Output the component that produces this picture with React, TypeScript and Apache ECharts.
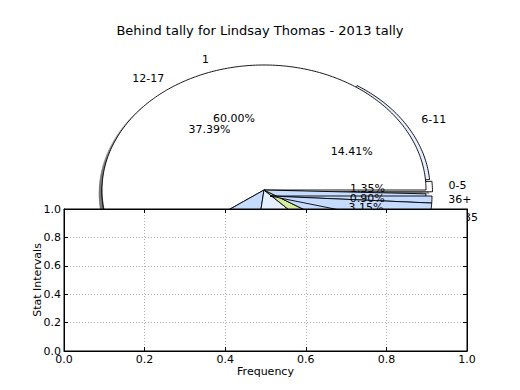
import React, { useEffect, useRef } from "react";
import * as echarts from "echarts";

const TITLE = "Behind tally for Lindsay Thomas - 2013 tally";
const X_NAME = "Frequency";
const Y_NAME = "Stat Intervals";
const X_TICKS = [0, 0.2, 0.4, 0.6, 0.8, 1.0];
const Y_TICKS = [0, 0.2, 0.4, 0.6, 0.8, 1.0];

// Age-group wedges, counter-clockwise from 3 o'clock
const ageLabels = ["0-5", "6-11", "12-17"];
const agePct = [1.35, 14.41, 37.39];
const ageColors = ["#ffffff", "#e6efff", "#ffffff"];
const ageExplode = [0.04, 0.03, 0];

// Age-group wedges drawn clockwise from 3 o'clock
const oldLabels = ["36+", "18-35"];
const oldPct = [0.9, 3.15];
const oldColors = ["#c6dcff", "#c6dcff"];
const oldExplode = [0, 0];

// Behind tally wedges (only "1" is labelled; the rest sit behind the axes)
const tallyLabels = ["1", "", "", "", ""];
const tallyPct = [60.0, 13.06, 14.2, 3.75, 8.5];
const tallyColors = ["#ffffff", "#c6dcff", "#e6efff", "#d4ec9c", "#c6dcff"];
const tallyExplode = [0, 0, 0, 0, 0];

const RX = 162;
const RY = 125;
const FONT = "DejaVu Sans";

function shade(hex: string) {
  const n = parseInt(hex.slice(1), 16);
  const r = Math.round(((n >> 16) & 255) * 0.3);
  const g = Math.round(((n >> 8) & 255) * 0.3);
  const b = Math.round((n & 255) * 0.3);
  return `rgba(${r},${g},${b},0.5)`;
}

function makePie(
  labels: string[],
  pct: number[],
  colors: string[],
  explode: number[],
  cx: number,
  cy: number,
  dir: number
) {
  const wedges: { t1: number; t2: number }[] = [];
  let cum = 0;
  pct.forEach((v) => {
    const t1 = cum * 3.6 * dir;
    cum += v;
    const t2 = cum * 3.6 * dir;
    wedges.push({ t1, t2 });
  });
  return {
    type: "custom",
    coordinateSystem: "none",
    silent: true,
    z: 1,
    data: pct,
    renderItem: (params: any) => {
      const i = params.dataIndex;
      const { t1, t2 } = wedges[i];
      const mid = ((t1 + t2) / 2) * (Math.PI / 180);
      const e = explode[i];
      const ox = cx + e * RX * Math.cos(mid);
      const oy = cy - e * RY * Math.sin(mid);
      const steps = Math.max(2, Math.ceil(Math.abs(t2 - t1)));
      const pts: number[][] = [[ox, oy]];
      for (let s = 0; s <= steps; s++) {
        const t = (t1 + ((t2 - t1) * s) / steps) * (Math.PI / 180);
        pts.push([ox + RX * Math.cos(t), oy - RY * Math.sin(t)]);
      }
      const shadowPts = pts.map((p) => [p[0] - 0.02 * RX, p[1] + 0.02 * RY]);
      const children: any[] = [
        {
          type: "polygon",
          z2: 0,
          shape: { points: shadowPts },
          style: { fill: shade(colors[i]) },
        },
        {
          type: "polygon",
          z2: 1,
          shape: { points: pts },
          style: { fill: colors[i], stroke: "#000", lineWidth: 0.9 },
        },
      ];
      if (labels[i]) {
        const c = Math.cos(mid);
        children.push({
          type: "text",
          z2: 2,
          x: ox + 1.1 * RX * c,
          y: oy - 1.1 * RY * Math.sin(mid),
          style: {
            text: labels[i],
            fill: "#000",
            fontSize: 11,
            fontFamily: FONT,
            align: c >= 0 ? "left" : "right",
            verticalAlign: "middle",
          },
        });
        children.push({
          type: "text",
          z2: 2,
          x: ox + 0.6 * RX * c,
          y: oy - 0.6 * RY * Math.sin(mid),
          style: {
            text: pct[i].toFixed(2) + "%",
            fill: "#000",
            fontSize: 11,
            fontFamily: FONT,
            align: "center",
            verticalAlign: "middle",
          },
        });
      }
      return { type: "group", children };
    },
  };
}

export default function App() {
  const ref = useRef<HTMLDivElement>(null);
  useEffect(() => {
    if (!ref.current) return;
    const chart = echarts.init(ref.current, null, { renderer: "svg" });
    const labelStyle = { color: "#000", fontSize: 11, fontFamily: FONT };
    const mkTick = () => ({ show: true, inside: true, length: 4, lineStyle: { color: "#000", width: 1 } });
    const mkLine = () => ({ show: true, onZero: false, lineStyle: { color: "#000", width: 1 } });
    const split = () => ({
      show: true,
      showMinLine: false,
      showMaxLine: false,
      lineStyle: { color: "#b0b0b0", type: [1, 2], width: 1 },
    });
    chart.setOption({
      animation: false,
      backgroundColor: "#fff",
      title: {
        text: TITLE,
        left: "center",
        top: 19,
        textStyle: { color: "#000", fontSize: 13, fontWeight: "normal", fontFamily: FONT },
        z: 6,
      },
      grid: {
        show: true,
        left: 64,
        top: 209,
        width: 403,
        height: 142,
        backgroundColor: "#fff",
        borderColor: "#000",
        borderWidth: 1,
        z: 3,
      },
      xAxis: [
        {
          type: "value",
          position: "bottom",
          min: X_TICKS[0],
          max: X_TICKS[X_TICKS.length - 1],
          interval: X_TICKS[1] - X_TICKS[0],
          axisLine: mkLine(),
          axisTick: mkTick(),
          axisLabel: { ...labelStyle, inside: false, margin: 3, formatter: (v: number) => v.toFixed(1) },
          splitLine: split(),
          name: X_NAME,
          nameLocation: "middle",
          nameGap: 15,
          nameMoveOverlap: false,
          nameTextStyle: labelStyle,
          z: 4,
        },
        {
          type: "value",
          position: "top",
          min: X_TICKS[0],
          max: X_TICKS[X_TICKS.length - 1],
          interval: X_TICKS[1] - X_TICKS[0],
          axisLine: mkLine(),
          axisTick: mkTick(),
          axisLabel: { show: false },
          splitLine: { show: false },
          z: 4,
        },
      ],
      yAxis: [
        {
          type: "value",
          position: "left",
          min: Y_TICKS[0],
          max: Y_TICKS[Y_TICKS.length - 1],
          interval: Y_TICKS[1] - Y_TICKS[0],
          axisLine: mkLine(),
          axisTick: mkTick(),
          axisLabel: { ...labelStyle, inside: false, margin: 3, formatter: (v: number) => v.toFixed(1) },
          splitLine: split(),
          name: Y_NAME,
          nameLocation: "middle",
          nameGap: 21,
          nameMoveOverlap: false,
          nameTextStyle: labelStyle,
          z: 4,
        },
        {
          type: "value",
          position: "right",
          min: Y_TICKS[0],
          max: Y_TICKS[Y_TICKS.length - 1],
          interval: Y_TICKS[1] - Y_TICKS[0],
          axisLine: mkLine(),
          axisTick: mkTick(),
          axisLabel: { show: false },
          splitLine: { show: false },
          z: 4,
        },
      ],
      series: [
        makePie(ageLabels, agePct, ageColors, ageExplode, 264, 192, 1),
        makePie(tallyLabels, tallyPct, tallyColors, tallyExplode, 264, 190, 1),
        makePie(oldLabels, oldPct, oldColors, oldExplode, 270, 196, -1),
      ],
    });
    return () => chart.dispose();
  }, []);
  return (
    <div
      ref={ref}
      style={{ position: "absolute", left: 0, top: 0, width: 520, height: 390 }}
    />
  );
}
